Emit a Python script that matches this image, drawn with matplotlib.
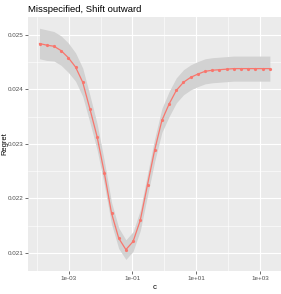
import numpy as np
import matplotlib
matplotlib.use("Agg")
import matplotlib.pyplot as plt
from matplotlib.ticker import FixedLocator, FuncFormatter

plt.rcParams['font.family'] = ['Liberation Sans', 'DejaVu Sans']

# cost parameter c = 2^-13 ... 2^11 in steps of 2^0.75
log2_c = [-13 + 0.75 * i for i in range(33)]
c_values = [2.0 ** v for v in log2_c]

regret = [
    0.02484, 0.02481, 0.02479, 0.02471, 0.02458, 0.02441, 0.02413, 0.02364,
    0.02313, 0.02247, 0.02173, 0.02127, 0.02106, 0.02121, 0.02160, 0.02225,
    0.02289, 0.02343, 0.02373, 0.02398, 0.02413, 0.02422, 0.02428, 0.02433,
    0.02435, 0.02436, 0.02437, 0.02438, 0.02438, 0.02438, 0.02438, 0.02438,
    0.02438,
]
half_width = [
    0.00028, 0.00028, 0.00027, 0.00027, 0.00027, 0.00026, 0.00026, 0.00025,
    0.00024, 0.00022, 0.00020, 0.00019, 0.00018, 0.00018, 0.00019, 0.00020,
    0.00021, 0.00022, 0.00023, 0.00023, 0.00023, 0.00023, 0.00023, 0.00023,
    0.00023, 0.00023, 0.00023, 0.00023, 0.00023, 0.00023, 0.00023, 0.00023,
    0.00023,
]

x_major = [1e-3, 1e-1, 1e1, 1e3]
x_minor = [1e-4, 1e-2, 1e0, 1e2]
y_major = [0.021, 0.022, 0.023, 0.024, 0.025]
y_minor = [0.0215, 0.0225, 0.0235, 0.0245]

reg = np.array(regret)
hw = np.array(half_width)
lower = reg - hw
upper = reg + hw

fig = plt.figure(figsize=(2.81, 2.94), dpi=100)
ax = fig.add_axes([28 / 281, 23 / 294, 253.4 / 281, 254.3 / 294])
ax.set_facecolor('#EBEBEB')

ax.fill_between(c_values, lower, upper, color='#D2D2D2', lw=0, zorder=2)
ax.plot(c_values, regret, color='#F8766D', lw=0.9, zorder=3)
ax.plot(c_values, regret, 'o', color='#F8766D', ms=2.3, mew=0, zorder=4)

ax.set_xscale('log')
lx = np.log10(c_values)
xr = lx.max() - lx.min()
ax.set_xlim(10 ** (lx.min() - 0.05 * xr), 10 ** (lx.max() + 0.05 * xr))
yr = upper.max() - lower.min()
ax.set_ylim(lower.min() - 0.05 * yr, upper.max() + 0.05 * yr)

ax.xaxis.set_major_locator(FixedLocator(x_major))
ax.xaxis.set_minor_locator(FixedLocator(x_minor))
ax.xaxis.set_major_formatter(
    FuncFormatter(lambda v, p: '1e%+03d' % int(round(np.log10(v)))))
ax.xaxis.set_minor_formatter(FuncFormatter(lambda v, p: ''))
ax.yaxis.set_major_locator(FixedLocator(y_major))
ax.yaxis.set_minor_locator(FixedLocator(y_minor))
ax.yaxis.set_major_formatter(FuncFormatter(lambda v, p: '%.3f' % v))

ax.grid(which='major', color='white', lw=0.8, zorder=0)
ax.grid(which='minor', color='white', lw=0.4, zorder=0)
ax.set_axisbelow(True)
for s in ax.spines.values():
    s.set_visible(False)

ax.tick_params(which='major', length=2.0, width=0.5, color='#333333',
               labelsize=4.5, labelcolor='#4D4D4D', pad=1.5)
ax.tick_params(which='minor', length=0)

ax.set_xlabel('c', fontsize=5.6, labelpad=2.5)
fig.text(4.5 / 281, (23 + 254.3 / 2) / 294, 'Regret', fontsize=5.4,
         rotation=90, ha='center', va='center')
fig.text(28 / 281, 1 - 12 / 294, 'Misspecified, Shift outward',
         fontsize=6.8, ha='left', va='baseline')

fig.savefig('out.png', dpi=100)
